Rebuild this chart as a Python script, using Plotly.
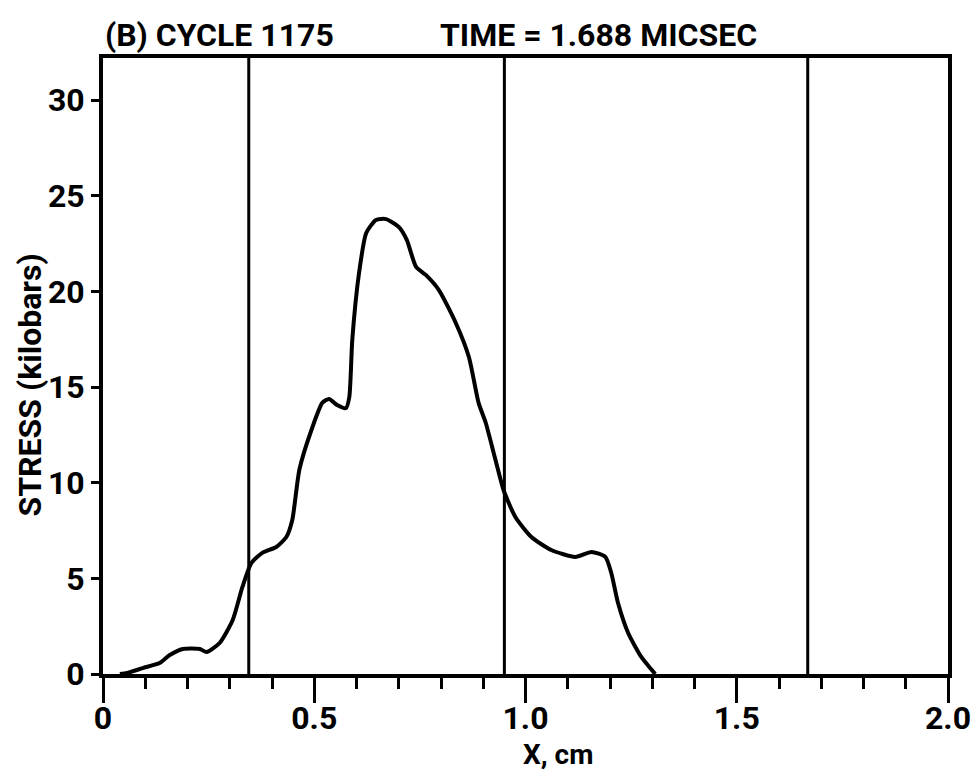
import plotly.graph_objects as go

# Stress profile
x_cm = [0.040, 0.057, 0.094, 0.134, 0.158, 0.189, 0.229, 0.245, 0.276, 0.307,
        0.330, 0.351, 0.377, 0.410, 0.434, 0.448, 0.465, 0.495, 0.519, 0.535,
        0.554, 0.575, 0.583, 0.590, 0.606, 0.623, 0.646, 0.670, 0.700, 0.719,
        0.741, 0.764, 0.795, 0.835, 0.866, 0.889, 0.906, 0.929, 0.948, 0.976,
        1.014, 1.061, 1.118, 1.156, 1.189, 1.203, 1.219, 1.243, 1.274, 1.297,
        1.307]
stress_kbar = [0.00, 0.05, 0.31, 0.57, 0.99, 1.31, 1.31, 1.15, 1.62, 2.82,
               4.55, 5.80, 6.33, 6.64, 7.16, 8.05, 10.70, 12.86, 14.17, 14.38,
               14.06, 13.90, 14.48, 17.46, 20.96, 23.05, 23.73, 23.78, 23.37, 22.69,
               21.28, 20.86, 20.07, 18.35, 16.57, 14.17, 13.12, 11.19, 9.62, 8.21,
               7.16, 6.48, 6.12, 6.38, 6.12, 5.28, 3.71, 2.14, 0.89, 0.26,
               0.00]
# Material interface positions (vertical lines)
interfaces_cm = [0.345, 0.950, 1.668]

x_ticks = [0, 0.5, 1.0, 1.5, 2.0]
x_tick_labels = ["0", "0.5", "1.0", "1.5", "2.0"]
y_ticks = [0, 5, 10, 15, 20, 25, 30]
y_tick_labels = ["0", "5", "10", "15", "20", "25", "30"]

title_left = "(B) CYCLE 1175"
title_right = "TIME = 1.688 MICSEC"
x_title = "X, cm"
y_title = "STRESS (kilobars)"

FONT = "Roboto, DejaVu Sans, sans-serif"

fig = go.Figure()
fig.add_trace(go.Scatter(
    x=x_cm, y=stress_kbar, mode="lines",
    line=dict(color="black", width=4, shape="spline", smoothing=0.6),
    showlegend=False, hoverinfo="x+y"))

for xv in interfaces_cm:
    fig.add_shape(type="line", xref="x", yref="paper", x0=xv, x1=xv, y0=0, y1=1,
                  line=dict(color="black", width=3))

# page body adds an 8px offset, so the figure is 8px smaller than the window
fig.update_layout(
    width=972, height=765,
    margin=dict(l=95, r=32, t=50, b=99),
    paper_bgcolor="white", plot_bgcolor="white",
    font=dict(family=FONT, color="black", size=30, weight="bold"),
    showlegend=False,
)
fig.update_xaxes(
    range=[0, 2.0], tickvals=x_ticks, ticktext=x_tick_labels,
    ticks="outside", ticklen=25, tickwidth=3, tickcolor="black",
    minor=dict(dtick=0.1, tick0=0, ticks="outside", ticklen=11, tickwidth=3, tickcolor="black"),
    showline=True, linewidth=4, linecolor="black", mirror=True,
    showgrid=False, zeroline=False, automargin=False,
    ticklabelstandoff=-12,
    tickfont=dict(family=FONT, size=32, weight="bold"),
)
fig.update_yaxes(
    range=[0, 32.2], tickvals=y_ticks, ticktext=y_tick_labels,
    ticks="outside", ticklen=8, tickwidth=3, tickcolor="black",
    showline=True, linewidth=4, linecolor="black", mirror=True,
    showgrid=False, zeroline=False, automargin=False,
    tickfont=dict(family=FONT, size=32, weight="bold"),
)

fig.add_annotation(text=title_left, xref="paper", yref="paper", x=0.0, y=1.037,
                   xanchor="left", yanchor="middle", showarrow=False,
                   font=dict(family=FONT, size=32, weight="bold"))
fig.add_annotation(text=title_right, xref="paper", yref="paper", x=0.396, y=1.037,
                   xanchor="left", yanchor="middle", showarrow=False,
                   font=dict(family=FONT, size=32, weight="bold"))
fig.add_annotation(text=x_title, xref="paper", yref="paper", x=0.538, y=-0.13,
                   xanchor="center", yanchor="middle", showarrow=False,
                   font=dict(family=FONT, size=28, weight="bold"))
fig.add_annotation(text=y_title, xref="paper", yref="paper", x=-0.086, y=0.469,
                   xanchor="center", yanchor="middle", showarrow=False, textangle=-90,
                   font=dict(family=FONT, size=32, weight="bold"))

fig.write_html("out.html")
